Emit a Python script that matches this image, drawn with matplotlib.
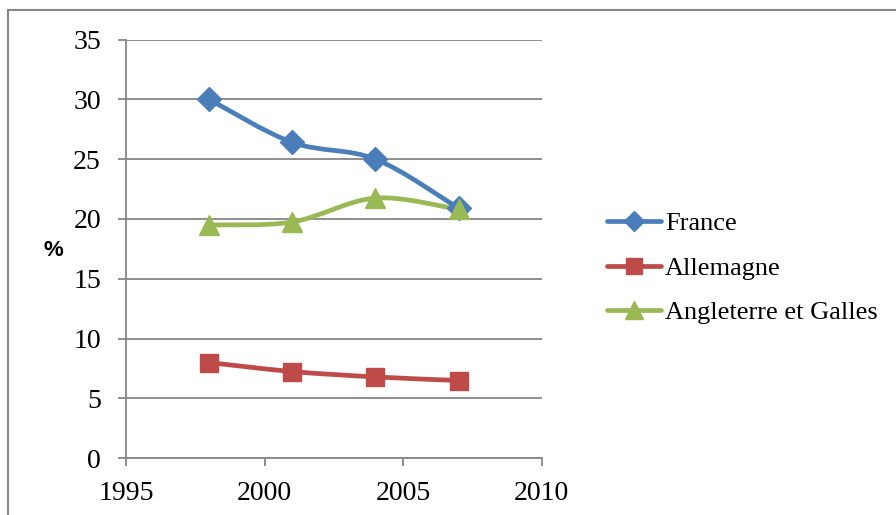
import matplotlib
matplotlib.use("Agg")
import matplotlib.pyplot as plt
from matplotlib.path import Path
from matplotlib.patches import PathPatch
from matplotlib.lines import Line2D
import numpy as np

years = [1998, 2001, 2004, 2007]
france = [30.0, 26.4, 25.0, 20.9]
allemagne = [8.0, 7.25, 6.8, 6.5]
angleterre = [19.5, 19.75, 21.75, 20.8]
series_names = ["France", "Allemagne", "Angleterre et Galles"]
x_ticks = [1995, 2000, 2005, 2010]
y_ticks = [0, 5, 10, 15, 20, 25, 30, 35]

colors = ["#4A7EBB", "#BE4B48", "#98B954"]
markers = ["D", "s", "^"]
msizes = [12.5, 13.5, 15]

plt.rcParams['font.family'] = ['Liberation Serif', 'DejaVu Serif']

fig = plt.figure(figsize=(8.96, 5.15), dpi=100)
ax = fig.add_axes([0.1406, 0.1101, 0.4640, 0.8132])


def smooth_path(xs, ys):
    pts = np.column_stack([xs, ys]).astype(float)
    n = len(pts)
    verts = [pts[0]]
    codes = [Path.MOVETO]
    for i in range(n - 1):
        p0 = pts[i - 1] if i > 0 else pts[i]
        p1 = pts[i]
        p2 = pts[i + 1]
        p3 = pts[i + 2] if i + 2 < n else pts[i + 1]
        c1 = p1 + (p2 - p0) / 6.0
        c2 = p2 - (p3 - p1) / 6.0
        verts += [c1, c2, p2]
        codes += [Path.CURVE4] * 3
    return Path(verts, codes)


data = [france, allemagne, angleterre]
for vals, c, m, ms, name in zip(data, colors, markers, msizes, series_names):
    patch = PathPatch(smooth_path(years, vals), facecolor='none', edgecolor=c,
                      lw=3.4, capstyle='round', joinstyle='round', zorder=3)
    ax.add_patch(patch)
    ax.plot(years, vals, linestyle='none', marker=m, ms=ms, color=c,
            markeredgecolor=c, zorder=4)

ax.set_xlim(1995, 2010)
ax.set_ylim(0, 35)
ax.set_xticks(x_ticks)
ax.set_yticks(y_ticks)
ax.yaxis.grid(True, color='#868686', lw=1.3)
ax.set_axisbelow(True)
for s in ['top', 'right']:
    ax.spines[s].set_visible(False)
for s in ['left', 'bottom']:
    ax.spines[s].set_color('#868686')
    ax.spines[s].set_linewidth(1.3)
ax.tick_params(axis='both', direction='out', length=6, width=1.3, color='#868686',
               labelsize=20, labelcolor='black')
ax.tick_params(axis='y', pad=12)
ax.tick_params(axis='x', pad=10)

fig.text(53 / 896, 1 - 251 / 515, '%', family=['Liberation Sans', 'DejaVu Sans'],
         fontweight='bold', fontsize=16, ha='center', va='center')

handles = [Line2D([], [], color=c, lw=3.4, marker=m, ms=ms * 0.85,
                  solid_capstyle='round')
           for c, m, ms in zip(colors, markers, msizes)]
fig.legend(handles, series_names, loc='center left',
           bbox_to_anchor=(607 / 896, 1 - 268 / 515), frameon=False,
           fontsize=19, handlelength=2.05, handletextpad=0.15, labelspacing=0.8,
           borderaxespad=0, borderpad=0)

# outer frame (partially visible in the reference)
fig.add_artist(Line2D([8 / 896, 1.0], [1 - 10 / 515, 1 - 10 / 515],
                      transform=fig.transFigure, color='#868686', lw=1.5))
fig.add_artist(Line2D([8 / 896, 8 / 896], [0, 1 - 10 / 515],
                      transform=fig.transFigure, color='#868686', lw=1.5))

fig.savefig('out.png', dpi=100)
